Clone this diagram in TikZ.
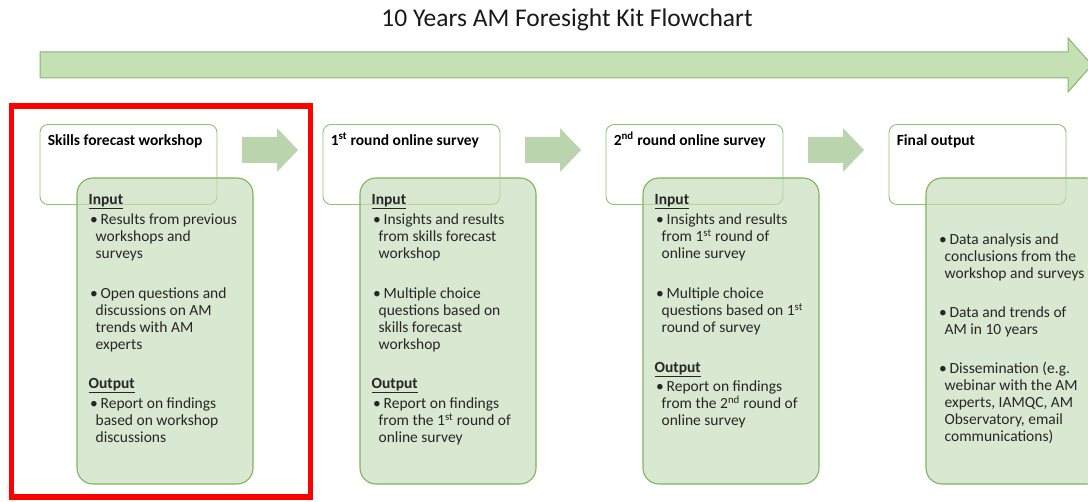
\documentclass[tikz,border=0pt]{standalone}
\usepackage{fontspec}
\setmainfont{Carlito}
\usetikzlibrary{calc}
\definecolor{bigfill}{HTML}{C5E0B4}
\definecolor{bigdraw}{HTML}{86B86A}
\definecolor{smallfill}{HTML}{BAD4AE}
\definecolor{gfill}{HTML}{C5DBB8}
\definecolor{gdraw}{HTML}{7DB55A}
\definecolor{hdraw}{HTML}{8FC370}
\definecolor{txt}{HTML}{262626}
\newcommand\bitem{\hspace*{1.5pt}\makebox[10.5pt][l]{\textbullet}}
\newcommand\bcont{\hspace*{7pt}}
\tikzset{
  hbox/.style={draw=hdraw, line width=0.9pt, fill=white, rounded corners=8pt,
    minimum width=177pt, minimum height=80pt, inner sep=0pt},
  gbox/.style={draw=gdraw, line width=1.1pt, fill=gfill, fill opacity=0.65,
    draw opacity=1, rounded corners=16pt, minimum width=176pt, minimum height=306pt, inner sep=0pt},
  htext/.style={anchor=base west, inner sep=0pt, font=\fontsize{15.5}{17}\selectfont\bfseries, text=black},
  btext/.style={anchor=north west, inner sep=0pt, align=left, font=\fontsize{15.5}{17}\selectfont, text=txt},
  sarrow/.style={fill=smallfill, draw=none},
}
\begin{document}
\begin{tikzpicture}[x=1pt,y=-1pt]
\useasboundingbox (0,0) rectangle (1088,502);
\clip (0,0) rectangle (1088,502);

% title
\node[font=\fontsize{25.5}{28}\selectfont, text=black!90, inner sep=0pt] (title) at (567,19.5) {10 Years AM Foresight Kit Flowchart};

% big arrow
\draw[fill=bigfill, draw=bigdraw, line width=1pt] (40,52) -- (1068,52) -- (1068,38) -- (1092,65) -- (1068,92) -- (1068,78) -- (40,78) -- cycle;

% small arrows
\foreach \dx in {0,283,566}{
  \fill[sarrow] (242+\dx,137) -- (277+\dx,137) -- (277+\dx,128) -- (298+\dx,150) -- (277+\dx,172) -- (277+\dx,163) -- (242+\dx,163) -- cycle;
}

% column 1
\node[hbox] (h1) at (128.5,164.5) {};
\node[htext] (h1t) at ($(h1.north west)+(8,21)$) {Skills forecast workshop};
\node[gbox] (g1) at (165,331) {};
\node[btext] (g1t) at ($(g1.north west)+(12,17)$) {%
\textbf{\underline{Input}}\\[3pt]
\bitem Results from previous\\
\bcont workshops and\\
\bcont surveys\\[23pt]
\bitem Open questions and\\
\bcont discussions on AM\\
\bcont trends with AM\\
\bcont experts\\[22pt]
\textbf{\underline{Output}}\\[3pt]
\bitem Report on findings\\
\bcont based on workshop\\
\bcont discussions};

% column 2
\node[hbox] (h2) at (411.5,164.5) {};
\node[htext] (h2t) at ($(h2.north west)+(8,21)$) {1\textsuperscript{st} round online survey};
\node[gbox] (g2) at (448,331) {};
\node[btext] (g2t) at ($(g2.north west)+(12,17)$) {%
\textbf{\underline{Input}}\\[3pt]
\bitem Insights and results\\
\bcont from skills forecast\\
\bcont workshop\\[23pt]
\bitem Multiple choice\\
\bcont questions based on\\
\bcont skills forecast\\
\bcont workshop\\[22pt]
\textbf{\underline{Output}}\\[3pt]
\bitem Report on findings\\
\bcont from the 1\textsuperscript{st} round of\\
\bcont online survey};

% column 3
\node[hbox] (h3) at (694.5,164.5) {};
\node[htext] (h3t) at ($(h3.north west)+(8,21)$) {2\textsuperscript{nd} round online survey};
\node[gbox] (g3) at (731,331) {};
\node[btext] (g3t) at ($(g3.north west)+(12,17)$) {%
\textbf{\underline{Input}}\\[3pt]
\bitem Insights and results\\
\bcont from 1\textsuperscript{st} round of\\
\bcont online survey\\[23pt]
\bitem Multiple choice\\
\bcont questions based on 1\textsuperscript{st}\\
\bcont round of survey\\[23pt]
\textbf{\underline{Output}}\\[2pt]
\bitem Report on findings\\
\bcont from the 2\textsuperscript{nd} round of\\
\bcont online survey};

% column 4
\node[hbox] (h4) at (977.5,164.5) {};
\node[htext] (h4t) at ($(h4.north west)+(8,21)$) {Final output};
\node[gbox] (g4) at (1014,331) {};
\node[btext] (g4t) at ($(g4.north west)+(12,56)$) {%
\bitem Data analysis and\\
\bcont conclusions from the\\
\bcont workshop and surveys\\[22pt]
\bitem Data and trends of\\
\bcont AM in 10 years\\[22pt]
\bitem Dissemination (e.g.\\
\bcont webinar with the AM\\
\bcont experts, IAMQC, AM\\
\bcont Observatory, email\\
\bcont communications)};

% red highlight frame
\draw[red, line width=5.5pt] (11.5,106) rectangle (310.5,497);
\end{tikzpicture}
\end{document}
